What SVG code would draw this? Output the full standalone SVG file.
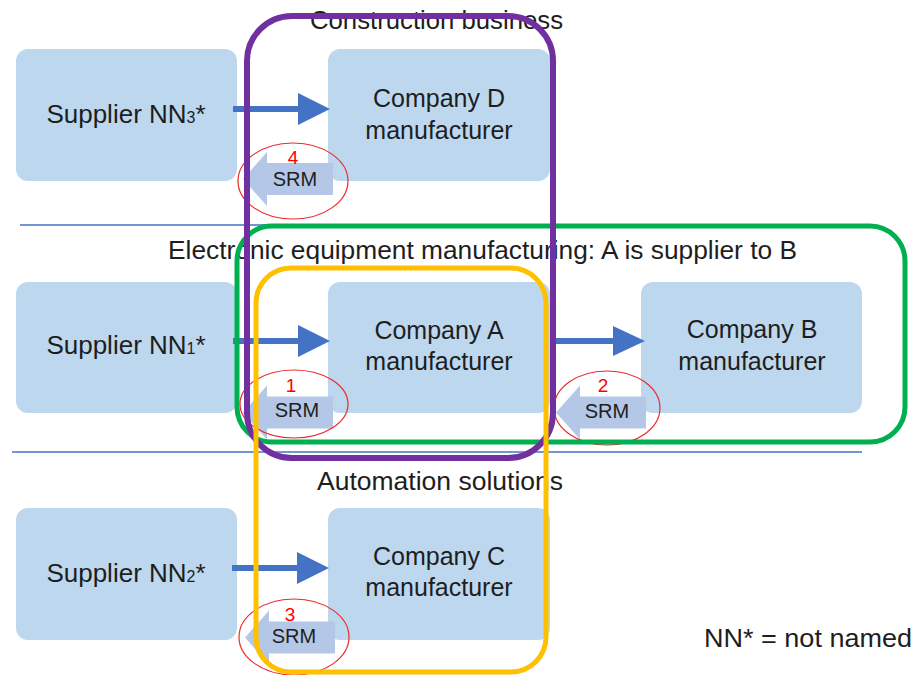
<svg xmlns="http://www.w3.org/2000/svg" xmlns:xlink="http://www.w3.org/1999/xlink" width="918" height="675" viewBox="0 0 918 675">
  <defs>
    <style>
      .box{fill:#BDD7EE}
      .lbl{font-family:"Liberation Sans",Arial,sans-serif;font-size:25px;fill:#1e1e1e;text-anchor:middle}
      .sup{font-size:26px}
      .sub{font-size:16px}
      .head-txt{font-family:"Liberation Sans",Arial,sans-serif;font-size:25px;fill:#1e1e1e}
      .flow{stroke:#4472C4;stroke-width:6;fill:none}
      .tip{fill:#4472C4}
      .srm{fill:#B4C7E7}
      .srm-txt{font-family:"Liberation Sans",Arial,sans-serif;font-size:20px;fill:#1e1e1e;text-anchor:middle}
      .num{font-family:"Liberation Sans",Arial,sans-serif;font-size:19px;fill:#FF0000;text-anchor:middle}
      .ring{fill:none;stroke:#F02828;stroke-width:1.2}
      .sep{stroke:#4472C4;stroke-width:1.5}
      .frame{fill:none}
    </style>
    <!-- left-pointing block arrow, tip at origin -->
    <path id="srmArrow" d="M0,0 L24,-27 L24,-16 L90,-16 L90,16 L24,16 L24,27 Z"/>
  </defs>

  <rect width="918" height="675" fill="#ffffff"/>

  <!-- section separators -->
  <g id="separators">
    <line class="sep" x1="20" y1="225" x2="545" y2="225"/>
    <line class="sep" x1="12" y1="452" x2="862" y2="452"/>
  </g>

  <!-- section titles -->
  <g id="titles">
    <text class="head-txt" x="436.5" y="29" text-anchor="middle" textLength="253" lengthAdjust="spacingAndGlyphs">Construction business</text>
    <text class="head-txt" x="482.5" y="259" text-anchor="middle" textLength="629" lengthAdjust="spacingAndGlyphs">Electronic equipment manufacturing: A is supplier to B</text>
    <text class="head-txt" x="440" y="490" text-anchor="middle" textLength="246" lengthAdjust="spacingAndGlyphs">Automation solutions</text>
    <text class="head-txt" x="704" y="647" textLength="208" lengthAdjust="spacingAndGlyphs">NN* = not named</text>
  </g>

  <!-- nodes -->
  <g id="supplier-nn3">
    <rect class="box" x="16" y="49" width="221" height="132" rx="12"/>
    <text class="lbl sup" x="126" y="123">Supplier NN<tspan class="sub">3</tspan>*</text>
  </g>
  <g id="company-d">
    <rect class="box" x="328" y="49" width="222" height="132" rx="12"/>
    <text class="lbl" x="439" y="107">Company D</text>
    <text class="lbl" x="439" y="139">manufacturer</text>
  </g>
  <g id="supplier-nn1">
    <rect class="box" x="16" y="282" width="221" height="131" rx="12"/>
    <text class="lbl sup" x="126" y="354">Supplier NN<tspan class="sub">1</tspan>*</text>
  </g>
  <g id="company-a">
    <rect class="box" x="328" y="282" width="222" height="131" rx="12"/>
    <text class="lbl" x="439" y="339">Company A</text>
    <text class="lbl" x="439" y="370">manufacturer</text>
  </g>
  <g id="company-b">
    <rect class="box" x="641" y="282" width="221" height="131" rx="12"/>
    <text class="lbl" x="752" y="338">Company B</text>
    <text class="lbl" x="752" y="370">manufacturer</text>
  </g>
  <g id="supplier-nn2">
    <rect class="box" x="16" y="508" width="221" height="132" rx="12"/>
    <text class="lbl sup" x="126" y="582">Supplier NN<tspan class="sub">2</tspan>*</text>
  </g>
  <g id="company-c">
    <rect class="box" x="328" y="508" width="222" height="132" rx="12"/>
    <text class="lbl" x="439" y="565">Company C</text>
    <text class="lbl" x="439" y="596">manufacturer</text>
  </g>

  <!-- connectors: supply flows and SRM feedback arrows -->
  <g id="connectors">
    <line class="flow" x1="233" y1="109" x2="300" y2="109"/>
    <polygon class="tip" points="298,93 330,109 298,125"/>
    <line class="flow" x1="233" y1="341" x2="300" y2="341"/>
    <polygon class="tip" points="298,325 330,341 298,357"/>
    <line class="flow" x1="550" y1="341" x2="615" y2="341"/>
    <polygon class="tip" points="613,326 645,341 613,356"/>
    <line class="flow" x1="232" y1="568" x2="299" y2="568"/>
    <polygon class="tip" points="297,552 329,568 297,584"/>

    <g id="srm-4">
      <use xlink:href="#srmArrow" class="srm" transform="translate(243,179)"/>
      <text class="num" x="293" y="164">4</text>
      <text class="srm-txt" x="295" y="186">SRM</text>
      <ellipse class="ring" cx="293" cy="181" rx="55" ry="38"/>
    </g>
    <g id="srm-1">
      <use xlink:href="#srmArrow" class="srm" transform="translate(243,412.5)"/>
      <text class="num" x="291" y="392">1</text>
      <text class="srm-txt" x="297" y="417">SRM</text>
      <ellipse class="ring" cx="294" cy="404" rx="54" ry="34"/>
    </g>
    <g id="srm-2">
      <use xlink:href="#srmArrow" class="srm" transform="translate(556,412.5)"/>
      <text class="num" x="603" y="392">2</text>
      <text class="srm-txt" x="607" y="418">SRM</text>
      <ellipse class="ring" cx="607" cy="408" rx="53" ry="37"/>
    </g>
    <g id="srm-3">
      <use xlink:href="#srmArrow" class="srm" transform="translate(245,637.5)"/>
      <text class="num" x="290" y="621">3</text>
      <text class="srm-txt" x="294" y="643">SRM</text>
      <ellipse class="ring" cx="294" cy="637" rx="55" ry="38"/>
    </g>
  </g>

  <!-- grouping frames -->
  <g id="frames">
    <rect class="frame" x="237" y="226" width="668" height="216" rx="35" stroke="#00B050" stroke-width="5"/>
    <rect class="frame" x="247" y="16" width="306" height="442" rx="45" stroke="#7030A0" stroke-width="6"/>
    <rect class="frame" x="256" y="268" width="290" height="404" rx="35" stroke="#FFC000" stroke-width="5"/>
  </g>
</svg>
